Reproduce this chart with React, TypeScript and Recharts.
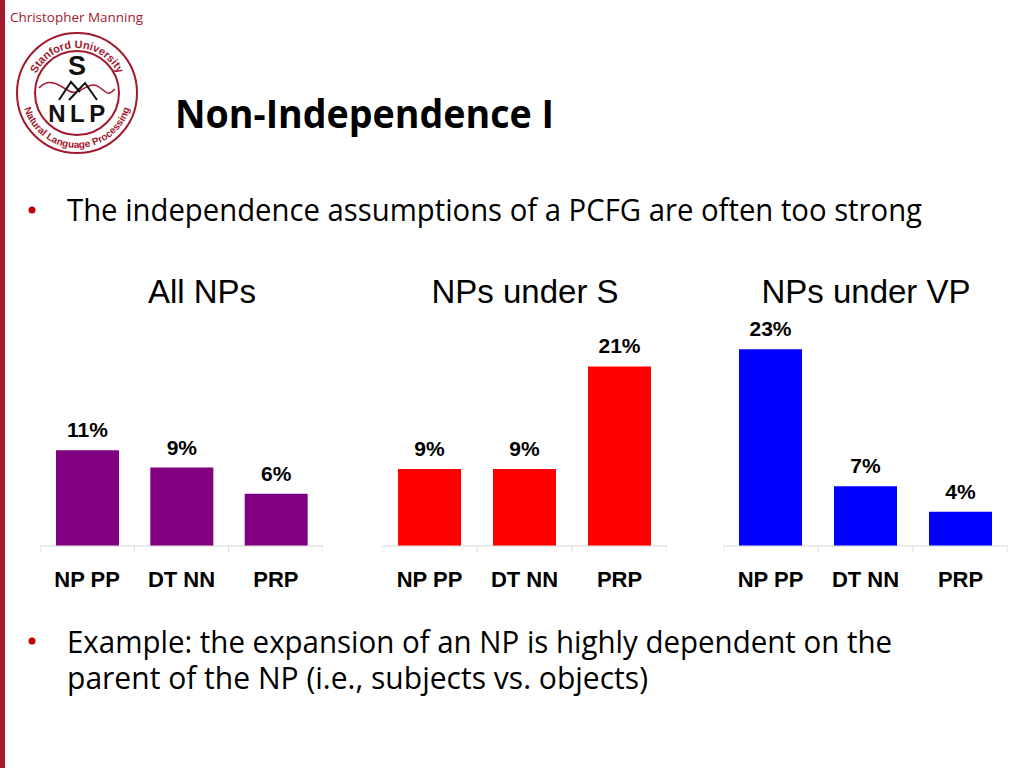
import { Bar, BarChart, LabelList, XAxis, YAxis } from "recharts";

const categories = ["NP PP", "DT NN", "PRP"];
const allNPs = [11, 9, 6];
const underS = [9, 9, 21];
const underVP = [23, 7, 4];
const chartTitles = ["All NPs", "NPs under S", "NPs under VP"];
const percentLabels = (vals: number[]) => vals.map((v) => `${v}%`);

const SANS = "'Open Sans', 'Noto Sans', sans-serif";
const ARIAL = "'Liberation Sans', Arial, sans-serif";
const CARDINAL = "#A3192E";

type Panel = {
  title: string;
  values: number[];
  color: string;
  left: number;
  width: number;
  yMax: number;
  titleX: number;
};

const panels: Panel[] = [
  { title: chartTitles[0], values: allNPs, color: "#800080", left: 40, width: 283, yMax: 26.4, titleX: 202 },
  { title: chartTitles[1], values: underS, color: "#FF0000", left: 382, width: 285, yMax: 26.9, titleX: 525 },
  { title: chartTitles[2], values: underVP, color: "#0000FF", left: 723, width: 285, yMax: 26.9, titleX: 866 },
];

const CHART_TOP = 316;
const CHART_H = 290;
const AXIS_H = 60;

function CategoryTick(props: any) {
  const { x, y, payload, index, band, count } = props;
  const half = band / 2;
  return (
    <g>
      <line x1={x - half} y1={y} x2={x - half} y2={y + 6} stroke="#D9D9D9" />
      {index === count - 1 && (
        <line x1={x + half} y1={y} x2={x + half} y2={y + 6} stroke="#D9D9D9" />
      )}
      <text
        x={x}
        y={y + 41}
        textAnchor="middle"
        fontFamily={ARIAL}
        fontWeight="bold"
        fontSize={22}
        fill="#000"
      >
        {payload.value}
      </text>
    </g>
  );
}

function ValueLabel(props: any) {
  const { x, y, width, value } = props;
  return (
    <text
      x={x + width / 2}
      y={y - 13}
      textAnchor="middle"
      fontFamily={ARIAL}
      fontWeight="bold"
      fontSize={21}
      fill="#000"
    >
      {value}
    </text>
  );
}

function PanelChart({ panel }: { panel: Panel }) {
  const labels = percentLabels(panel.values);
  const data = categories.map((c, i) => ({
    name: c,
    value: panel.values[i],
    label: labels[i],
  }));
  const band = panel.width / categories.length;
  return (
    <div style={{ position: "absolute", left: panel.left, top: CHART_TOP }}>
      <BarChart
        width={panel.width}
        height={CHART_H}
        data={data}
        margin={{ top: 0, right: 0, bottom: 0, left: 0 }}
      >
        <XAxis
          dataKey="name"
          height={AXIS_H}
          axisLine={{ stroke: "#D9D9D9" }}
          tickLine={false}
          tickSize={0}
          tickMargin={0}
          interval={0}
          tick={(p: any) => (
            <CategoryTick {...p} band={band} count={categories.length} />
          )}
        />
        <YAxis hide domain={[0, panel.yMax]} />
        <Bar
          dataKey="value"
          fill={panel.color}
          barSize={63}
          isAnimationActive={false}
        >
          <LabelList dataKey="label" content={(p: any) => <ValueLabel {...p} />} />
        </Bar>
      </BarChart>
    </div>
  );
}

// Stanford NLP seal, drawn roughly
function Logo() {
  const cx = 77;
  const cy = 93;
  const rTop = 45;
  const rBot = 55;
  const a = (20 * Math.PI) / 180;
  const topArc = `M ${cx - rTop * Math.cos(a)} ${cy + rTop * Math.sin(a)} A ${rTop} ${rTop} 0 1 1 ${cx + rTop * Math.cos(a)} ${cy + rTop * Math.sin(a)}`;
  const botArc = `M ${cx - rBot * Math.cos(a)} ${cy - rBot * Math.sin(a)} A ${rBot} ${rBot} 0 1 0 ${cx + rBot * Math.cos(a)} ${cy - rBot * Math.sin(a)}`;
  return (
    <g>
      <defs>
        <path id="logoTop" d={topArc} />
        <path id="logoBottom" d={botArc} />
      </defs>
      <circle cx={cx} cy={cy} r={60} fill="none" stroke={CARDINAL} strokeWidth={2} />
      <circle cx={cx} cy={cy} r={42} fill="none" stroke={CARDINAL} strokeWidth={2} />
      <text fontFamily={ARIAL} fontWeight="bold" fontSize={11} fill={CARDINAL}>
        <textPath href="#logoTop" startOffset="50%" textAnchor="middle">
          Stanford University
        </textPath>
      </text>
      <text fontFamily={ARIAL} fontWeight="bold" fontSize={10} fill={CARDINAL}>
        <textPath href="#logoBottom" startOffset="50%" textAnchor="middle">
          Natural Language Processing
        </textPath>
      </text>
      <text x={cx} y={cy - 18} textAnchor="middle" fontFamily={ARIAL} fontWeight="bold" fontSize={27} fill="#111">
        S
      </text>
      <path
        d={`M ${cx - 38} ${cy - 5} C ${cx - 28} ${cy - 16}, ${cx - 18} ${cy - 8}, ${cx - 8} ${cy - 2} S ${cx + 12} ${cy - 14}, ${cx + 22} ${cy - 6} S ${cx + 32} ${cy + 2}, ${cx + 38} ${cy - 4}`}
        fill="none"
        stroke={CARDINAL}
        strokeWidth={1.5}
      />
      <path
        d={`M ${cx - 18} ${cy + 7} L ${cx - 6} ${cy - 11} L ${cx + 3} ${cy - 1} M ${cx - 8} ${cy + 7} L ${cx + 8} ${cy - 10} L ${cx + 20} ${cy + 7}`}
        fill="none"
        stroke="#111"
        strokeWidth={2}
      />
      <text x={cx + 2} y={cy + 29} textAnchor="middle" fontFamily={ARIAL} fontWeight="bold" fontSize={24} letterSpacing={4.5} fill="#111">
        NLP
      </text>
    </g>
  );
}

export default function App() {
  return (
    <div
      style={{
        position: "absolute",
        left: 0,
        top: 0,
        width: 1024,
        height: 768,
        background: "#fff",
        overflow: "hidden",
      }}
    >
      <svg width={1024} height={768} style={{ position: "absolute", left: 0, top: 0 }}>
        <rect x={0} y={0} width={5} height={768} fill={CARDINAL} />
        <text x={10} y={21.5} fontFamily={SANS} fontSize={13.5} fill={CARDINAL} textLength={133} lengthAdjust="spacingAndGlyphs">
          Christopher Manning
        </text>
        <Logo />
        <text x={175} y={128} fontFamily={SANS} fontWeight="bold" fontSize={39} fill="#000" textLength={379} lengthAdjust="spacingAndGlyphs">
          Non-Independence I
        </text>
        <circle cx={32} cy={210} r={3.5} fill="#C00000" />
        <text x={67} y={221} fontFamily={SANS} fontSize={31} fill="#000" textLength={855} lengthAdjust="spacingAndGlyphs">
          The independence assumptions of a PCFG are often too strong
        </text>
        {panels.map((p) => (
          <text key={p.title} x={p.titleX} y={303} textAnchor="middle" fontFamily={ARIAL} fontSize={33} fill="#000">
            {p.title}
          </text>
        ))}
        <circle cx={32} cy={641} r={3.5} fill="#C00000" />
        <text x={67} y={652.5} fontFamily={SANS} fontSize={31} fill="#000" textLength={825} lengthAdjust="spacingAndGlyphs">
          Example: the expansion of an NP is highly dependent on the
        </text>
        <text x={67} y={688.5} fontFamily={SANS} fontSize={31} fill="#000" textLength={581} lengthAdjust="spacingAndGlyphs">
          parent of the NP (i.e., subjects vs. objects)
        </text>
      </svg>
      {panels.map((p) => (
        <PanelChart key={p.title} panel={p} />
      ))}
    </div>
  );
}
